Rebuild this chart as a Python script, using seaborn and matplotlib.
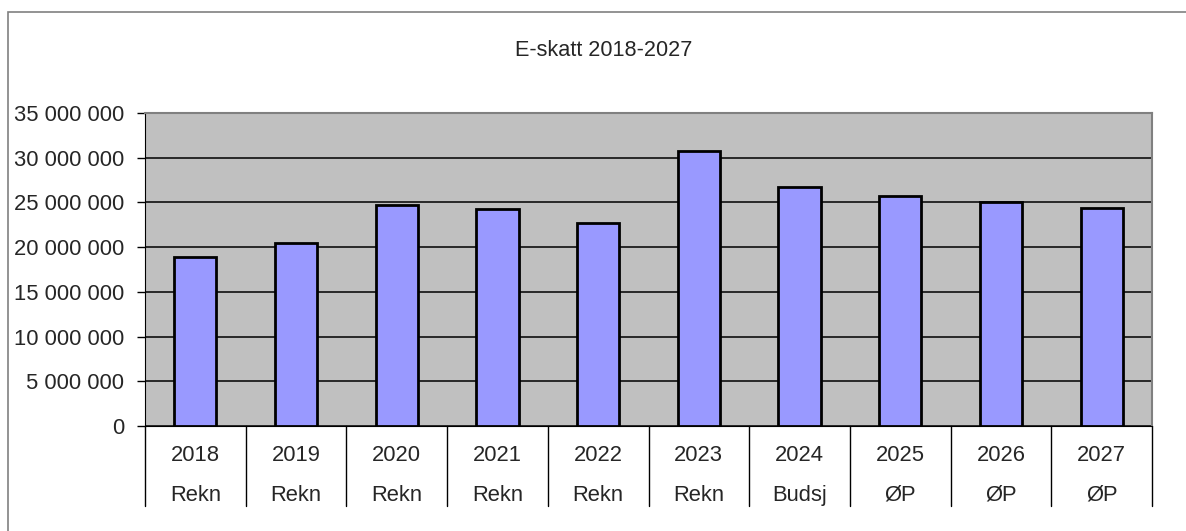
import matplotlib
matplotlib.use("Agg")
import matplotlib.pyplot as plt
import matplotlib.transforms as mtransforms
from matplotlib.patches import Rectangle
from matplotlib.ticker import FuncFormatter
import seaborn as sns
import pandas as pd

years = ['2018', '2019', '2020', '2021', '2022', '2023', '2024', '2025', '2026', '2027']
kind = ['Rekn', 'Rekn', 'Rekn', 'Rekn', 'Rekn', 'Rekn', 'Budsj', 'ØP', 'ØP', 'ØP']
eskatt = [18870000, 20500000, 24690000, 24300000, 22700000, 30730000,
          26700000, 25760000, 25060000, 24350000]
yticks = [0, 5000000, 10000000, 15000000, 20000000, 25000000, 30000000, 35000000]

df = pd.DataFrame({'year': years, 'kind': kind, 'value': eskatt})

sns.set_style('white')
plt.rcParams['font.family'] = ['Liberation Sans', 'DejaVu Sans']

fig = plt.figure(figsize=(11.86, 5.31), dpi=100)
ax = fig.add_axes([145 / 1186, 1 - 426 / 531, (1152 - 145) / 1186, (426 - 113) / 531])
ax.set_facecolor('#C0C0C0')

sns.barplot(data=df, x='year', y='value', color='#9999FF', edgecolor='black',
            linewidth=2, width=0.42, saturation=1, ax=ax, zorder=3)

ax.set_xlim(-0.5, len(years) - 0.5)
ax.set_ylim(0, 35000000)
ax.set_yticks(yticks)
ax.yaxis.set_major_formatter(FuncFormatter(lambda v, p: f'{int(v):,}'.replace(',', ' ')))
ax.tick_params(axis='y', direction='out', length=6, width=1, color='black',
               labelsize=15.8, pad=9, left=True)
ax.tick_params(axis='x', bottom=False, labelbottom=False)
ax.yaxis.grid(True, color='black', linewidth=1.1, zorder=0)
ax.set_axisbelow(True)
ax.set_xlabel('')
ax.set_ylabel('')
for s in ['top', 'right']:
    ax.spines[s].set_color('#808080')
    ax.spines[s].set_linewidth(1.5)
ax.spines['left'].set_color('black')
ax.spines['bottom'].set_color('black')

# two-level category labels with separators
trans = mtransforms.blended_transform_factory(ax.transData, ax.transAxes)
for i in range(len(years) + 1):
    ax.plot([i - 0.5, i - 0.5], [0, -0.256], color='black', lw=1,
            transform=trans, clip_on=False)
for i, (y, k) in enumerate(zip(years, kind)):
    ax.text(i, -0.094, y, transform=trans, ha='center', va='center', fontsize=15.8)
    ax.text(i, -0.222, k, transform=trans, ha='center', va='center', fontsize=15.8)

fig.text(604 / 1186, 1 - 50 / 531, 'E-skatt 2018-2027', ha='center', va='center',
         fontsize=15.6)

fig.add_artist(Rectangle((8 / 1186, -0.1), 1.2, (531 - 12) / 531 + 0.1,
                         transform=fig.transFigure, fill=False,
                         edgecolor='#808080', linewidth=1.2))

fig.savefig('out.png', dpi=100)
